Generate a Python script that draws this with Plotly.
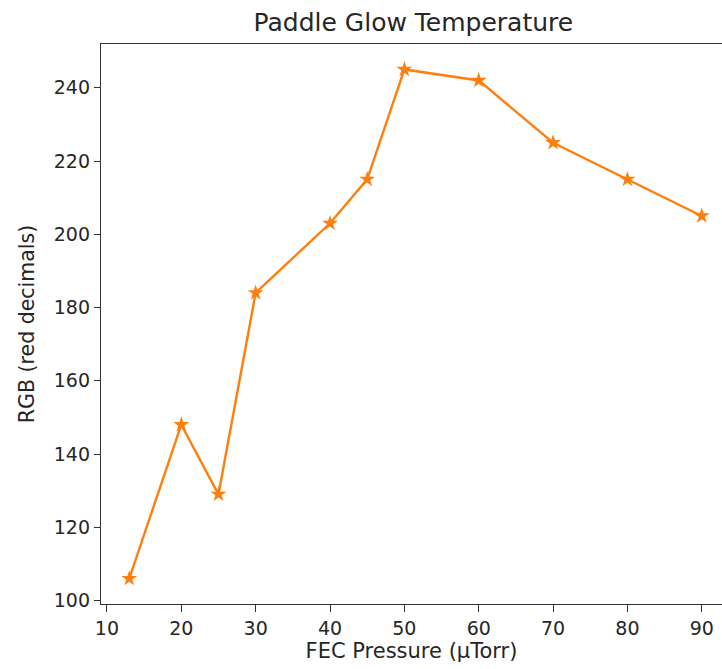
import plotly.graph_objects as go

pressure = [13, 20, 25, 30, 40, 45, 50, 60, 70, 80, 90]
rgb_red = [106, 148, 129, 184, 203, 215, 245, 242, 225, 215, 205]
x_ticks = [10, 20, 30, 40, 50, 60, 70, 80, 90]
y_ticks = [100, 120, 140, 160, 180, 200, 220, 240]

fig = go.Figure()
fig.add_trace(go.Scatter(
    x=pressure, y=rgb_red, mode="lines+markers",
    line=dict(color="#ff7f0e", width=2.4),
    marker=dict(symbol="star", size=12, color="#ff7f0e"),
    showlegend=False,
))

font_family = "DejaVu Sans"
fig.update_layout(
    width=722, height=669,
    margin=dict(l=101, r=0, t=44, b=65, pad=0),
    paper_bgcolor="white", plot_bgcolor="white",
    title=dict(text="Paddle Glow Temperature", x=0.503, xanchor="center", xref="paper",
               y=1 - 22/669, yanchor="middle",
               font=dict(family=font_family, size=25, color="#262626")),
    font=dict(family=font_family, size=19, color="#262626"),
)
fig.update_xaxes(
    range=[9.2, 92.72], tickvals=x_ticks, ticks="outside", ticklen=7, tickwidth=1.3,
    tickcolor="#333", showline=True, linecolor="#333", linewidth=1.3, mirror=True,
    showgrid=False, zeroline=False,
    title=dict(text="FEC Pressure (µTorr)", standoff=4, font=dict(size=21)),
)
fig.update_yaxes(
    range=[99.05, 251.95], tickvals=y_ticks, ticks="outside", ticklen=6, tickwidth=1.3,
    tickcolor="#333", showline=True, linecolor="#333", linewidth=1.3, mirror=False,
    showgrid=False, zeroline=False,
    title=dict(text="RGB (red decimals)", standoff=13, font=dict(size=20.5)),
)
fig.write_html("out.html")
